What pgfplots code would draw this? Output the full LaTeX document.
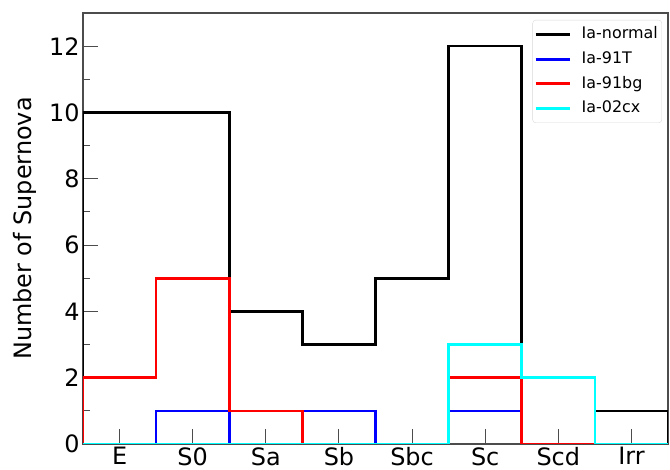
\documentclass[border=0pt]{standalone}
\usepackage{fontspec}
\setmainfont{DejaVu Sans}
\usepackage{pgfplots}
\pgfplotsset{compat=1.18}
\definecolor{sncyan}{RGB}{0,255,255}
\definecolor{snblue}{RGB}{0,0,255}
\definecolor{snred}{RGB}{255,0,0}
\pgfplotsset{
  snkey/.style={legend image code/.code={\draw[#1, line width=3bp] (0bp,0bp) -- (34bp,0bp);}},
}
\begin{document}
\begin{tikzpicture}
\useasboundingbox (-83bp,-26bp) rectangle (587bp,444bp);
\begin{axis}[
  scale only axis, width=585bp, height=431bp,
  xmin=-0.5, xmax=7.5, ymin=0, ymax=13,
  xtick={0,...,7}, xticklabels={E,S0,Sa,Sb,Sbc,Sc,Scd,Irr},
  ytick={0,2,...,12}, minor ytick={1,3,...,11},
  tick pos=left, tick align=inside,
  major tick length=15bp, minor tick length=7bp,
  every tick/.style={black!70, line width=1bp},
  axis line style={black!70, line width=1.2bp},
  /pgf/number format/assume math mode=true,
  tick label style={font=\fontsize{24}{28}\selectfont},
  ylabel={Number of Supernova},
  ylabel style={font=\fontsize{24}{28}\selectfont, at={(axis description cs:-0.0991,0.5)}, anchor=center},
  legend style={at={(rel axis cs:0.9897,0.9838)}, anchor=north east, draw=black!15, rounded corners=3bp,
    font=\fontsize{16}{18}\selectfont, row sep=2.2bp, column sep=8bp, inner xsep=1.5bp, inner ysep=3bp,
    nodes={text height=12bp, text depth=3.5bp, inner ysep=3.5bp, inner xsep=2.5bp}, cells={anchor=west}},
]
% legend keys
\addlegendimage{snkey={black}}
\addlegendentry{Ia-normal}
\addlegendimage{snkey={snblue}}
\addlegendentry{Ia-91T}
\addlegendimage{snkey={snred}}
\addlegendentry{Ia-91bg}
\addlegendimage{snkey={sncyan}}
\addlegendentry{Ia-02cx}
% step outlines of the four subtypes, one bin per host morphology
\addplot[black, line width=2.6bp, const plot, forget plot] coordinates {(-0.5,0) (-0.5,10) (0.5,10) (1.5,4) (2.5,3) (3.5,5) (4.5,12) (5.5,0) (6.5,1) (7.5,1) (7.5,0)};
\addplot[snblue, line width=2.6bp, const plot, forget plot] coordinates {(-0.5,0) (0.5,1) (1.5,0) (2.5,1) (3.5,0) (4.5,1) (5.5,0) (6.5,0) (7.5,0)};
\addplot[snred, line width=2.6bp, const plot, forget plot] coordinates {(-0.5,0) (-0.5,2) (0.5,5) (1.5,1) (2.5,0) (3.5,0) (4.5,2) (5.5,0) (6.5,0) (7.5,0)};
\addplot[sncyan, line width=2.6bp, const plot, forget plot] coordinates {(-0.5,0) (4.5,3) (5.5,2) (6.5,0) (7.5,0)};
\end{axis}
\end{tikzpicture}
\end{document}
